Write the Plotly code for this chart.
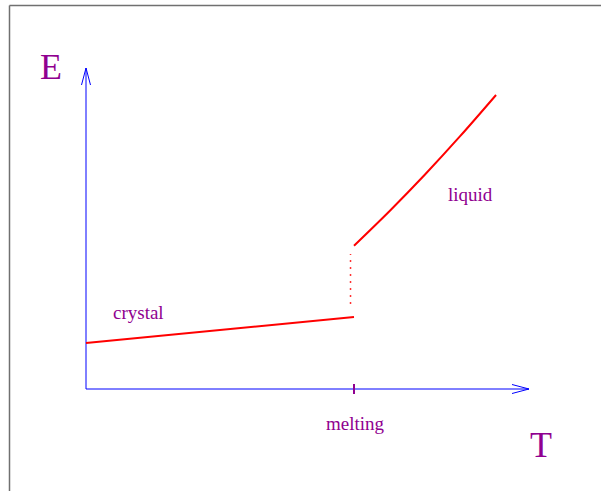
import plotly.graph_objects as go

# ---- data (T in units of melting temperature, E arbitrary units) ----
T_melt = 1.0
crystal_T = [0.0, 1.0]
crystal_E = [0.46, 0.72]
liquid_T = [1.0, 1.134, 1.265, 1.396, 1.530]
liquid_E = [1.433, 1.783, 2.145, 2.528, 2.94]
gap_T = [0.987, 0.987]
gap_E = [0.85, 1.35]
axis_T_end = 1.653
axis_E_end = 3.21
labels = {"E": "E", "T": "T", "melt": "melting", "crystal": "crystal", "liquid": "liquid"}

W, H = 601, 491
# pixel scale of the axes
ox, oy = 86, 389
sx, sy = 268.0, 100.0
xr = [-ox / sx, (W - ox) / sx]
yr = [-(H - oy) / sy, oy / sy]

BLUE = "#0000FF"
RED = "#FF0000"
PURPLE = "#900090"

fig = go.Figure()

# axes lines
fig.add_trace(go.Scatter(x=[0, axis_T_end], y=[0, 0], mode="lines",
                         line=dict(color=BLUE, width=1), hoverinfo="skip"))
fig.add_trace(go.Scatter(x=[0, 0], y=[0, axis_E_end], mode="lines",
                         line=dict(color=BLUE, width=1), hoverinfo="skip"))
# open arrowheads (17px long, 4.5px half-width)
L, hw = 17, 4.5
fig.add_trace(go.Scatter(
    x=[axis_T_end - L / sx, axis_T_end, axis_T_end - L / sx],
    y=[hw / sy, 0, -hw / sy], mode="lines",
    line=dict(color=BLUE, width=1), hoverinfo="skip"))
fig.add_trace(go.Scatter(
    x=[-hw / sx, 0, hw / sx],
    y=[axis_E_end - L / sy, axis_E_end, axis_E_end - L / sy], mode="lines",
    line=dict(color=BLUE, width=1), hoverinfo="skip"))

# melting tick
fig.add_trace(go.Scatter(x=[T_melt, T_melt], y=[-5 / sy, 5 / sy], mode="lines",
                         line=dict(color=PURPLE, width=2), hoverinfo="skip"))

# energy curves
fig.add_trace(go.Scatter(x=crystal_T, y=crystal_E, mode="lines",
                         line=dict(color=RED, width=2), hoverinfo="skip"))
fig.add_trace(go.Scatter(x=liquid_T, y=liquid_E, mode="lines",
                         line=dict(color=RED, width=2, shape="spline", smoothing=1.0),
                         hoverinfo="skip"))
fig.add_trace(go.Scatter(x=gap_T, y=gap_E, mode="lines",
                         line=dict(color=RED, width=1.5, dash="2px,5px"),
                         opacity=0.8, hoverinfo="skip"))

def ann(text, px, py, size):
    fig.add_annotation(text=text, x=px / W, y=1 - py / H, xref="paper", yref="paper",
                       xanchor="center", yanchor="middle", showarrow=False,
                       font=dict(family="Liberation Serif", size=size, color=PURPLE))

ann(labels["E"], 51, 67, 36)
ann(labels["T"], 541, 445, 36)
ann(labels["melt"], 355.5, 423.6, 19)
ann(labels["crystal"], 138.7, 312.6, 19)
ann(labels["liquid"], 470, 194.3, 19)

# frame (top and left edges)
fig.add_shape(type="line", xref="paper", yref="paper", x0=9.5 / W, x1=1, y0=1 - 5.5 / H,
              y1=1 - 5.5 / H, line=dict(color="#707070", width=1.5))
fig.add_shape(type="line", xref="paper", yref="paper", x0=9.5 / W, x1=9.5 / W, y0=0,
              y1=1 - 5.5 / H, line=dict(color="#707070", width=1.5))

fig.update_layout(
    width=W, height=H, margin=dict(l=0, r=0, t=0, b=0),
    paper_bgcolor="white", plot_bgcolor="white", showlegend=False,
    xaxis=dict(range=xr, visible=False, fixedrange=True),
    yaxis=dict(range=yr, visible=False, fixedrange=True),
)

fig.write_html("out.html", config={"displayModeBar": False},
               post_script="document.body.style.margin='0';document.body.style.overflow='hidden';")
